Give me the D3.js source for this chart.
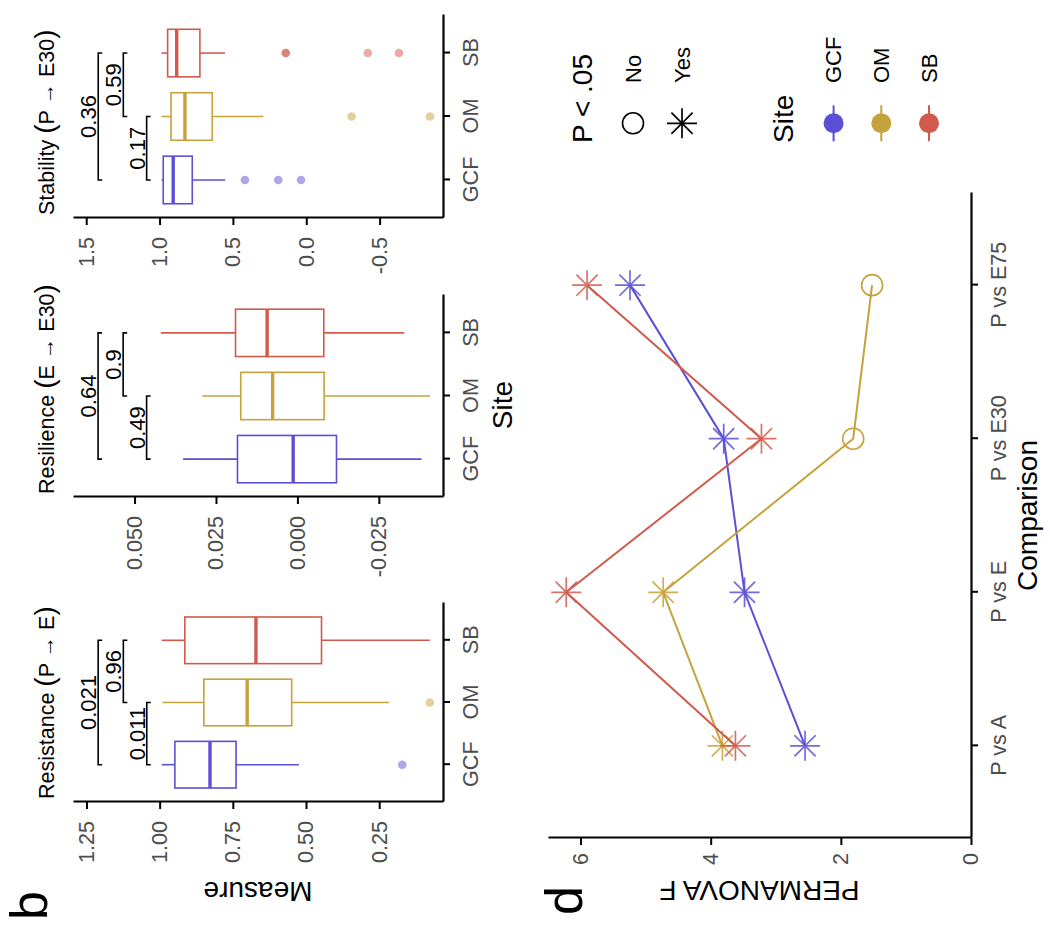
<!DOCTYPE html>
<html>
<head>
<meta charset="utf-8">
<script src="https://cdn.jsdelivr.net/npm/d3@7"></script>
<style>
  body { margin: 0; background: #fff; }
  text { font-family: "Liberation Sans", Arial, sans-serif; }
</style>
</head>
<body>
<script>
// ---- data ----
const sites = ["GCF", "OM", "SB"];
const siteColors = ["#5b4fd6", "#c5a23c", "#d15a4d"];

// five number summaries per site: [lower whisker, q1, median, q3, upper whisker]
const resistanceBoxes = [
  [0.524, 0.739, 0.828, 0.948, 0.993],
  [0.216, 0.549, 0.701, 0.849, 0.99],
  [0.077, 0.447, 0.671, 0.914, 0.993],
];
const resistanceOutliers = [[0.171], [0.077], []];
const resistanceP = ["0.021", "0.96", "0.011"];
const resistanceBarY = [1.21, 1.124, 1.044];

const resilienceBoxes = [
  [-0.0381, -0.012, 0.0013, 0.0184, 0.0351],
  [-0.0407, -0.0082, 0.0076, 0.0174, 0.0292],
  [-0.0328, -0.0081, 0.0093, 0.019, 0.0419],
];
const resilienceOutliers = [[], [], []];
const resilienceP = ["0.64", "0.9", "0.49"];
const resilienceBarY = [0.0612, 0.0535, 0.0463];

const stabilityBoxes = [
  [0.552, 0.777, 0.907, 0.975, 0.986],
  [0.293, 0.641, 0.827, 0.922, 0.986],
  [0.554, 0.725, 0.883, 0.945, 0.986],
];
const stabilityOutliers = [[0.418, 0.191, 0.036], [-0.309, -0.843], [0.14, 0.14, -0.419, -0.632]];
const stabilityP = ["0.36", "0.59", "0.17"];
const stabilityBarY = [1.418, 1.247, 1.088];

const pairs = [["GCF", "SB"], ["OM", "SB"], ["GCF", "OM"]];

const comparisons = ["P vs A", "P vs E", "P vs E30", "P vs E75"];
const permanovaF = {
  GCF: [2.55, 3.48, 3.8, 5.24],
  OM: [3.82, 4.73, 1.81, 1.52],
  SB: [3.62, 6.22, 3.22, 5.9],
};
const significant = {
  GCF: ["Yes", "Yes", "Yes", "Yes"],
  OM: ["Yes", "Yes", "No", "No"],
  SB: ["Yes", "Yes", "Yes", "Yes"],
};
const fTicks = [0, 2, 4, 6];

// ---- drawing ----
const W = 1050, H = 932;
const svg = d3.select("body").append("svg").attr("width", W).attr("height", H);
// the figure is laid out upright (932 wide, 1050 tall), then turned a quarter turn
const fig = svg.append("g").attr("transform", `translate(0,${H}) rotate(-90)`);

const dash = (f) => (v) => d3.format(f)(v).replace("\u2212", "-");
const colorOf = d3.scaleOrdinal(sites, siteColors);

const panels = [
  { title: ["Resistance", "P \u2192 E"], x0: 130, x1: 329, domain: [0.032, 1.296],
    ticks: [0.25, 0.5, 0.75, 1.0, 1.25], fmt: dash(".2f"),
    boxes: resistanceBoxes, outliers: resistanceOutliers, p: resistanceP, barY: resistanceBarY },
  { title: ["Resilience", "E \u2192 E30"], x0: 435, x1: 637, domain: [-0.0447, 0.0689],
    ticks: [-0.025, 0, 0.025, 0.05], fmt: dash(".3f"),
    boxes: resilienceBoxes, outliers: resilienceOutliers, p: resilienceP, barY: resilienceBarY },
  { title: ["Stability", "P \u2192 E30"], x0: 714, x1: 917, domain: [-0.932, 1.59],
    ticks: [-0.5, 0, 0.5, 1.0, 1.5], fmt: dash(".1f"),
    boxes: stabilityBoxes, outliers: stabilityOutliers, p: stabilityP, barY: stabilityBarY },
];

const plotTop = 73, plotBottom = 443;

function styleAxis(g, size) {
  g.select(".domain").attr("stroke", "#000").attr("stroke-width", 2.2);
  g.selectAll(".tick line").attr("stroke", "#000").attr("stroke-width", 2);
  g.selectAll(".tick text").attr("fill", "#4d4d4d").style("font-size", size + "px");
}

function drawBoxPanel(p) {
  const x = d3.scalePoint().domain(sites).range([p.x0, p.x1]).padding(0.6);
  const y = d3.scaleLinear().domain(p.domain).range([plotBottom, plotTop]);
  const bw = x.step() * 0.75;
  const g = fig.append("g");

  const box = g.selectAll("g.box").data(sites).enter().append("g")
    .attr("stroke", (d) => colorOf(d)).attr("fill", "none");
  box.append("line").attr("x1", (d) => x(d)).attr("x2", (d) => x(d))
    .attr("y1", (d, i) => y(p.boxes[i][0])).attr("y2", (d, i) => y(p.boxes[i][1]))
    .attr("stroke-width", 1.6);
  box.append("line").attr("x1", (d) => x(d)).attr("x2", (d) => x(d))
    .attr("y1", (d, i) => y(p.boxes[i][3])).attr("y2", (d, i) => y(p.boxes[i][4]))
    .attr("stroke-width", 1.6);
  box.append("rect").attr("x", (d) => x(d) - bw / 2).attr("width", bw)
    .attr("y", (d, i) => y(p.boxes[i][3]))
    .attr("height", (d, i) => y(p.boxes[i][1]) - y(p.boxes[i][3]))
    .attr("fill", "#fff").attr("stroke-width", 1.6);
  box.append("line").attr("x1", (d) => x(d) - bw / 2).attr("x2", (d) => x(d) + bw / 2)
    .attr("y1", (d, i) => y(p.boxes[i][2])).attr("y2", (d, i) => y(p.boxes[i][2]))
    .attr("stroke-width", 3.4);

  sites.forEach((s, i) => {
    g.selectAll(null).data(p.outliers[i]).enter().append("circle")
      .attr("cx", x(s)).attr("cy", (d) => y(d)).attr("r", 4.3)
      .attr("fill", colorOf(s)).attr("fill-opacity", 0.5);
  });

  // significance brackets
  pairs.forEach((pr, i) => {
    const yy = y(p.barY[i]);
    const a = x(pr[0]), b = x(pr[1]);
    g.append("path").attr("d", `M${a},${yy + 4}V${yy}H${b}V${yy + 4}`)
      .attr("fill", "none").attr("stroke", "#000").attr("stroke-width", 1.6);
    g.append("text").attr("x", (a + b) / 2).attr("y", yy - 2)
      .attr("text-anchor", "middle").style("font-size", "22px").attr("fill", "#000")
      .text(p.p[i]);
  });

  g.append("g").attr("transform", `translate(${p.x0},0)`)
    .call(d3.axisLeft(y).tickValues(p.ticks).tickFormat(p.fmt).tickSize(7).tickSizeOuter(0).tickPadding(12))
    .call(styleAxis, 21.6);
  g.append("g").attr("transform", `translate(0,${plotBottom})`)
    .call(d3.axisBottom(x).tickSize(7).tickSizeOuter(0).tickPadding(13))
    .call(styleAxis, 21.6);

  // plotmath-like title: the brackets come out larger than the words
  const t = g.append("text").attr("x", p.x0 + 3).attr("y", 54).style("font-size", "21.5px").attr("fill", "#000");
  t.append("tspan").text(p.title[0] + " ");
  t.append("tspan").style("font-size", "28px").text("(");
  t.append("tspan").text(p.title[1]);
  t.append("tspan").style("font-size", "28px").text(")");
}

panels.forEach(drawBoxPanel);

fig.append("text").attr("transform", "translate(50,258) rotate(-90)")
  .attr("text-anchor", "middle").style("font-size", "28px").text("Measure");
fig.append("text").attr("x", 527).attr("y", 512).attr("text-anchor", "middle")
  .style("font-size", "28px").text("Site");
fig.append("text").attr("x", 12).attr("y", 47).style("font-size", "52px").text("b");

// ---- panel d ----
const xD = d3.scalePoint().domain(comparisons).range([94, 739]).padding(0.6);
const yD = d3.scaleLinear().domain([0, 6.5]).range([971, 548]);

function asterisk(r) {
  const k = r / Math.SQRT2;
  return `M${-r},0H${r}M0,${-r}V${r}M${-k},${-k}L${k},${k}M${-k},${k}L${k},${-k}`;
}

const dg = fig.append("g");
sites.forEach((s) => {
  const pts = comparisons.map((c, i) => ({ c, v: permanovaF[s][i], sig: significant[s][i] }));
  dg.append("path").datum(pts)
    .attr("d", d3.line().x((d) => xD(d.c)).y((d) => yD(d.v)))
    .attr("fill", "none").attr("stroke", colorOf(s)).attr("stroke-width", 2);
  const pg = dg.selectAll(null).data(pts).enter().append("g")
    .attr("transform", (d) => `translate(${xD(d.c)},${yD(d.v)})`);
  pg.filter((d) => d.sig === "Yes").append("path").attr("d", asterisk(15))
    .attr("stroke", colorOf(s)).attr("stroke-width", 1.7).attr("stroke-opacity", 0.85);
  pg.filter((d) => d.sig === "No").append("circle").attr("r", 10.5)
    .attr("fill", "none").attr("stroke", colorOf(s)).attr("stroke-width", 1.6);
});

dg.append("g").attr("transform", "translate(94,0)")
  .call(d3.axisLeft(yD).tickValues(fTicks).tickFormat(d3.format("d")).tickSize(7).tickSizeOuter(0).tickPadding(8))
  .call(styleAxis, 21.6);
dg.append("g").attr("transform", "translate(0,971)")
  .call(d3.axisBottom(xD).tickSize(7).tickSizeOuter(0).tickPadding(13))
  .call(styleAxis, 21.6);

fig.append("text").attr("transform", "translate(51,759.5) rotate(-90)")
  .attr("text-anchor", "middle").style("font-size", "28px").text("PERMANOVA F");
fig.append("text").attr("x", 416.5).attr("y", 1037).attr("text-anchor", "middle")
  .style("font-size", "28px").text("Comparison");
fig.append("text").attr("x", 17).attr("y", 582).style("font-size", "52px").text("d");

// legends
const keyX = 808.7, labelX = 849;
const sigLegend = fig.append("g");
sigLegend.append("text").attr("x", 789).attr("y", 592).style("font-size", "28px").text("P < .05");
const sigKeys = ["No", "Yes"];
const sigKeyY = d3.scalePoint().domain(sigKeys).range([633, 682]);
sigLegend.append("circle").attr("cx", keyX).attr("cy", sigKeyY("No")).attr("r", 10.5)
  .attr("fill", "none").attr("stroke", "#000").attr("stroke-width", 1.6);
sigLegend.append("path").attr("transform", `translate(${keyX},${sigKeyY("Yes")})`)
  .attr("d", asterisk(15)).attr("stroke", "#000").attr("stroke-width", 1.7);
sigLegend.selectAll(null).data(sigKeys).enter().append("text")
  .attr("x", labelX).attr("y", (d) => sigKeyY(d)).attr("dy", "0.35em")
  .style("font-size", "22px").text((d) => d);

const siteLegend = fig.append("g");
siteLegend.append("text").attr("x", 789).attr("y", 793).style("font-size", "28px").text("Site");
const siteKeyY = d3.scalePoint().domain(sites).range([833.6, 929]);
const sk = siteLegend.selectAll(null).data(sites).enter().append("g")
  .attr("transform", (d) => `translate(${keyX},${siteKeyY(d)})`);
sk.append("line").attr("x1", -18).attr("x2", 18).attr("stroke", (d) => colorOf(d)).attr("stroke-width", 2);
sk.append("circle").attr("r", 10).attr("fill", (d) => colorOf(d));
siteLegend.selectAll(null).data(sites).enter().append("text")
  .attr("x", labelX).attr("y", (d) => siteKeyY(d)).attr("dy", "0.35em")
  .style("font-size", "22px").text((d) => d);
</script>
</body>
</html>
